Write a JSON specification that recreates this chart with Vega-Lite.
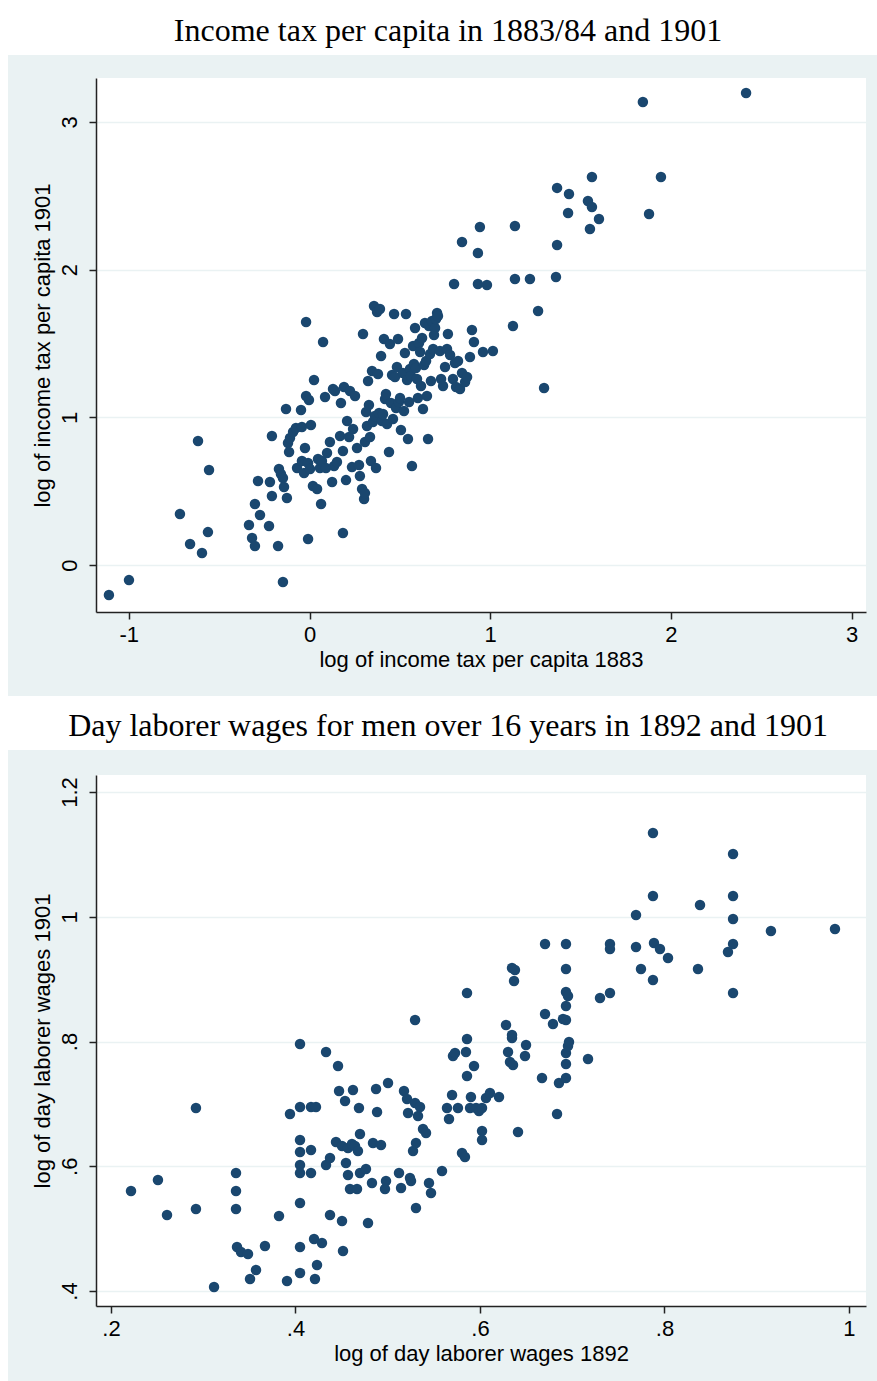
{
  "$schema": "https://vega.github.io/schema/vega-lite/v6.json",
  "background": "white",
  "padding": {"left": 8, "top": 14, "right": 0, "bottom": 0},
  "config": {
    "view": {"stroke": null},
    "concat": {"spacing": 13},
    "font": "Liberation Sans",
    "title": {"font": "Liberation Serif", "fontSize": 32, "fontWeight": "normal", "color": "#000", "anchor": "middle", "baseline": "alphabetic", "offset": 7, "dx": -33},
    "axis": {"domainColor": "#222", "domainWidth": 1.5, "tickColor": "#222", "tickWidth": 1.5, "tickSize": 7, "labelFont": "Liberation Sans", "labelFontSize": 22, "labelColor": "#000", "titleFont": "Liberation Sans", "titleFontSize": 22, "titleFontWeight": "normal", "titleColor": "#000", "labelFlush": false, "labelOverlap": false, "gridColor": "#eaf2f3", "gridWidth": 1.5, "grid": false},
    "axisX": {"labelPadding": 5, "titlePadding": 4},
    "axisY": {"labelAngle": 270, "labelAlign": "center", "labelBaseline": "alphabetic", "labelPadding": 13, "titlePadding": 4}
  },
  "datasets": {
    "tax": [
      {"x": -1.110, "y": -0.203}, {"x": -0.999, "y": -0.102}, {"x": -0.147, "y": -0.115}, {"x": -0.717, "y": 0.345}, {"x": -0.661, "y": 0.142}, {"x": -0.595, "y": 0.081}, {"x": -0.617, "y": 0.840}, {"x": -0.556, "y": 0.643}, {"x": -0.562, "y": 0.223}, {"x": -0.019, "y": 1.645}, {"x": 0.075, "y": 1.510}, {"x": -0.008, "y": 0.176}, {"x": 0.185, "y": 0.217}, {"x": 1.298, "y": 1.198}, {"x": 1.845, "y": 3.135}, {"x": 2.416, "y": 3.196}, {"x": 1.945, "y": 2.627}, {"x": 1.879, "y": 2.376}, {"x": 1.370, "y": 2.553}, {"x": 1.436, "y": 2.512}, {"x": 1.563, "y": 2.627}, {"x": 1.541, "y": 2.464}, {"x": 1.563, "y": 2.424}, {"x": 1.602, "y": 2.343}, {"x": 1.552, "y": 2.275}, {"x": 1.431, "y": 2.383}, {"x": 1.370, "y": 2.167}, {"x": 1.364, "y": 1.950}, {"x": 1.137, "y": 2.295}, {"x": 0.943, "y": 2.288}, {"x": 0.844, "y": 2.187}, {"x": 0.932, "y": 2.112}, {"x": 1.137, "y": 1.936}, {"x": 1.220, "y": 1.936}, {"x": 0.932, "y": 1.903}, {"x": 0.982, "y": 1.896}, {"x": 0.800, "y": 1.903}, {"x": 1.265, "y": 1.720}, {"x": 1.126, "y": 1.618}, {"x": 1.015, "y": 1.449}, {"x": 0.960, "y": 1.442},
      {"x": -0.335, "y": 0.271}, {"x": -0.318, "y": 0.183}, {"x": -0.302, "y": 0.129}, {"x": -0.302, "y": 0.413}, {"x": -0.285, "y": 0.569}, {"x": -0.274, "y": 0.339}, {"x": -0.224, "y": 0.264}, {"x": -0.219, "y": 0.562}, {"x": -0.208, "y": 0.467}, {"x": -0.208, "y": 0.873}, {"x": -0.174, "y": 0.129}, {"x": -0.169, "y": 0.650}, {"x": -0.158, "y": 0.616}, {"x": -0.147, "y": 0.589}, {"x": -0.141, "y": 0.528}, {"x": -0.130, "y": 1.056}, {"x": -0.125, "y": 0.454}, {"x": -0.119, "y": 0.826}, {"x": -0.113, "y": 0.765}, {"x": -0.108, "y": 0.860}, {"x": -0.091, "y": 0.900}, {"x": -0.075, "y": 0.928}, {"x": -0.069, "y": 0.657}, {"x": -0.047, "y": 1.049}, {"x": -0.042, "y": 0.934}, {"x": -0.042, "y": 0.704}, {"x": -0.030, "y": 0.623}, {"x": -0.025, "y": 0.792}, {"x": -0.019, "y": 1.144}, {"x": -0.008, "y": 0.691}, {"x": -0.003, "y": 1.117}, {"x": 0.003, "y": 0.650}, {"x": 0.008, "y": 0.948}, {"x": 0.019, "y": 0.535}, {"x": 0.025, "y": 1.253}, {"x": 0.042, "y": 0.515}, {"x": 0.047, "y": 0.718}, {"x": 0.058, "y": 0.657}, {"x": 0.064, "y": 0.413}, {"x": 0.069, "y": 0.704}, {"x": 0.086, "y": 1.137}, {"x": 0.091, "y": 0.657}, {"x": 0.097, "y": 0.758}, {"x": 0.113, "y": 0.833}, {"x": 0.125, "y": 0.562}, {"x": 0.130, "y": 1.192}, {"x": 0.136, "y": 0.670}, {"x": 0.141, "y": 1.178}, {"x": 0.152, "y": 0.697}, {"x": 0.169, "y": 0.873}, {"x": 0.174, "y": 1.097}, {"x": 0.185, "y": 0.772}, {"x": 0.191, "y": 1.205}, {"x": 0.202, "y": 0.575}, {"x": 0.208, "y": 0.975}, {"x": 0.219, "y": 0.867}, {"x": 0.224, "y": 1.178}, {"x": 0.235, "y": 0.663}, {"x": 0.241, "y": 0.921}, {"x": 0.252, "y": 1.144}, {"x": 0.263, "y": 0.792}, {"x": 0.274, "y": 0.677}, {"x": 0.279, "y": 0.603}, {"x": 0.291, "y": 0.515}, {"x": 0.296, "y": 1.564}, {"x": 0.302, "y": 0.447}, {"x": 0.307, "y": 0.487}, {"x": 0.307, "y": 0.833}, {"x": 0.313, "y": 1.036}, {"x": 0.318, "y": 0.941}, {"x": 0.324, "y": 1.246}, {"x": 0.329, "y": 1.083}, {"x": 0.335, "y": 0.867}, {"x": 0.340, "y": 0.704}, {"x": 0.346, "y": 1.313}, {"x": 0.351, "y": 0.968}, {"x": 0.357, "y": 1.754}, {"x": 0.362, "y": 1.009}, {"x": 0.368, "y": 0.657}, {"x": 0.374, "y": 1.713}, {"x": 0.379, "y": 1.293}, {"x": 0.385, "y": 1.029}, {"x": 0.390, "y": 1.733}, {"x": 0.396, "y": 1.415}, {"x": 0.401, "y": 0.975}, {"x": 0.407, "y": 1.022}, {"x": 0.412, "y": 1.530}, {"x": 0.418, "y": 1.124}, {"x": 0.423, "y": 1.158}, {"x": 0.429, "y": 0.955}, {"x": 0.440, "y": 0.765}, {"x": 0.445, "y": 1.496}, {"x": 0.451, "y": 1.097}, {"x": 0.457, "y": 1.286}, {"x": 0.462, "y": 0.988}, {"x": 0.468, "y": 1.699}, {"x": 0.473, "y": 1.273}, {"x": 0.479, "y": 1.063}, {"x": 0.484, "y": 1.341}, {"x": 0.490, "y": 1.530}, {"x": 0.495, "y": 1.104}, {"x": 0.501, "y": 1.131}, {"x": 0.506, "y": 0.914}, {"x": 0.517, "y": 1.300}, {"x": 0.523, "y": 1.043}, {"x": 0.528, "y": 1.435}, {"x": 0.534, "y": 1.699}, {"x": 0.540, "y": 1.253}, {"x": 0.545, "y": 0.853}, {"x": 0.551, "y": 1.104}, {"x": 0.556, "y": 1.327}, {"x": 0.562, "y": 1.280}, {"x": 0.567, "y": 0.670}, {"x": 0.573, "y": 1.483}, {"x": 0.578, "y": 1.361}, {"x": 0.584, "y": 1.605}, {"x": 0.589, "y": 1.334}, {"x": 0.595, "y": 1.259}, {"x": 0.600, "y": 1.131}, {"x": 0.606, "y": 1.503}, {"x": 0.612, "y": 1.442}, {"x": 0.617, "y": 1.212}, {"x": 0.623, "y": 1.537}, {"x": 0.628, "y": 1.056}, {"x": 0.634, "y": 1.354}, {"x": 0.639, "y": 1.638}, {"x": 0.645, "y": 1.381}, {"x": 0.650, "y": 1.144}, {"x": 0.656, "y": 0.853}, {"x": 0.661, "y": 1.618}, {"x": 0.667, "y": 1.429}, {"x": 0.672, "y": 1.246}, {"x": 0.678, "y": 1.652}, {"x": 0.684, "y": 1.462}, {"x": 0.689, "y": 1.557}, {"x": 0.695, "y": 1.605}, {"x": 0.700, "y": 1.666}, {"x": 0.706, "y": 1.706}, {"x": 0.711, "y": 1.686}, {"x": 0.722, "y": 1.449}, {"x": 0.728, "y": 1.259}, {"x": 0.739, "y": 1.212}, {"x": 0.750, "y": 1.341}, {"x": 0.761, "y": 1.462}, {"x": 0.766, "y": 1.564}, {"x": 0.778, "y": 1.422}, {"x": 0.794, "y": 1.259}, {"x": 0.805, "y": 1.368}, {"x": 0.811, "y": 1.205}, {"x": 0.822, "y": 1.381}, {"x": 0.833, "y": 1.192}, {"x": 0.844, "y": 1.300}, {"x": 0.861, "y": 1.239}, {"x": 0.872, "y": 1.273}, {"x": 0.888, "y": 1.408}, {"x": 0.899, "y": 1.591}, {"x": 0.910, "y": 1.510}
    ],
    "wages": [
      {"x": 0.2217, "y": 0.5603}, {"x": 0.2509, "y": 0.5780}, {"x": 0.2607, "y": 0.5218}, {"x": 0.2921, "y": 0.6934}, {"x": 0.2921, "y": 0.5315}, {"x": 0.3117, "y": 0.4064}, {"x": 0.3355, "y": 0.5892}, {"x": 0.3355, "y": 0.5603}, {"x": 0.3355, "y": 0.5315}, {"x": 0.3366, "y": 0.4705}, {"x": 0.3409, "y": 0.4625}, {"x": 0.3485, "y": 0.4593}, {"x": 0.3507, "y": 0.4192}, {"x": 0.3572, "y": 0.4337}, {"x": 0.3669, "y": 0.4721}, {"x": 0.3821, "y": 0.5202}, {"x": 0.3908, "y": 0.4160}, {"x": 0.3940, "y": 0.6838}, {"x": 0.4049, "y": 0.4289}, {"x": 0.4049, "y": 0.7960}, {"x": 0.4049, "y": 0.6421}, {"x": 0.4049, "y": 0.6228}, {"x": 0.4049, "y": 0.6020}, {"x": 0.4049, "y": 0.5892}, {"x": 0.4049, "y": 0.5411}, {"x": 0.4049, "y": 0.4705}, {"x": 0.4049, "y": 0.6950}, {"x": 0.4168, "y": 0.6950}, {"x": 0.4222, "y": 0.6950}, {"x": 0.4168, "y": 0.6261}, {"x": 0.4168, "y": 0.5892}, {"x": 0.4201, "y": 0.4834}, {"x": 0.4211, "y": 0.4192}, {"x": 0.4233, "y": 0.4417}, {"x": 0.4287, "y": 0.4770}, {"x": 0.4331, "y": 0.7832}, {"x": 0.4331, "y": 0.6020}, {"x": 0.4374, "y": 0.6132}, {"x": 0.4374, "y": 0.5218}, {"x": 0.4439, "y": 0.6389}, {"x": 0.4461, "y": 0.7607}, {"x": 0.4472, "y": 0.7206}, {"x": 0.4504, "y": 0.6325}, {"x": 0.4504, "y": 0.5122}, {"x": 0.4515, "y": 0.4641}, {"x": 0.4537, "y": 0.7046}, {"x": 0.4547, "y": 0.6052}, {"x": 0.4569, "y": 0.5860}, {"x": 0.4569, "y": 0.6293}, {"x": 0.4591, "y": 0.5635}, {"x": 0.4612, "y": 0.6357}, {"x": 0.4623, "y": 0.7222}, {"x": 0.4645, "y": 0.6325}, {"x": 0.4667, "y": 0.5635}, {"x": 0.4677, "y": 0.6245}, {"x": 0.4688, "y": 0.6934}, {"x": 0.4699, "y": 0.5892}, {"x": 0.4699, "y": 0.6517}, {"x": 0.4764, "y": 0.5956}, {"x": 0.4786, "y": 0.5090}, {"x": 0.4829, "y": 0.5731}, {"x": 0.4840, "y": 0.6373}, {"x": 0.4873, "y": 0.7238}, {"x": 0.4884, "y": 0.6870}, {"x": 0.4927, "y": 0.6341}, {"x": 0.4981, "y": 0.5764}, {"x": 0.5003, "y": 0.7335}, {"x": 0.4970, "y": 0.5635}, {"x": 0.5122, "y": 0.5892}, {"x": 0.5144, "y": 0.5651}, {"x": 0.5176, "y": 0.7206}, {"x": 0.5209, "y": 0.7078}, {"x": 0.5220, "y": 0.6854}, {"x": 0.5241, "y": 0.5812}, {"x": 0.5252, "y": 0.5764}, {"x": 0.5274, "y": 0.6245}, {"x": 0.5296, "y": 0.8345}, {"x": 0.5296, "y": 0.7014}, {"x": 0.5306, "y": 0.5331}, {"x": 0.5306, "y": 0.6373}, {"x": 0.5328, "y": 0.6806}, {"x": 0.5350, "y": 0.6950}, {"x": 0.5382, "y": 0.6597}, {"x": 0.5415, "y": 0.6533}, {"x": 0.5447, "y": 0.5731}, {"x": 0.5469, "y": 0.5571}, {"x": 0.5588, "y": 0.5924}, {"x": 0.5642, "y": 0.6934}, {"x": 0.5664, "y": 0.6758}, {"x": 0.5697, "y": 0.7142}, {"x": 0.5707, "y": 0.7768}, {"x": 0.5729, "y": 0.7816}, {"x": 0.5761, "y": 0.6934}, {"x": 0.5805, "y": 0.6212}, {"x": 0.5837, "y": 0.6148}, {"x": 0.5848, "y": 0.7832}, {"x": 0.5859, "y": 0.8778}, {"x": 0.5859, "y": 0.8040}, {"x": 0.5859, "y": 0.7447}, {"x": 0.5892, "y": 0.6934}, {"x": 0.5902, "y": 0.7110}, {"x": 0.5935, "y": 0.7607}, {"x": 0.5957, "y": 0.6934}, {"x": 0.5989, "y": 0.6886}, {"x": 0.6022, "y": 0.6934}, {"x": 0.6022, "y": 0.6565}, {"x": 0.6022, "y": 0.6421}, {"x": 0.6065, "y": 0.7094}, {"x": 0.6108, "y": 0.7174}, {"x": 0.6206, "y": 0.7110}, {"x": 0.6282, "y": 0.8265}, {"x": 0.6304, "y": 0.7832}, {"x": 0.6325, "y": 0.7671}, {"x": 0.6347, "y": 0.8056}, {"x": 0.6347, "y": 0.9178}, {"x": 0.6369, "y": 0.8970}, {"x": 0.6379, "y": 0.9146}, {"x": 0.6347, "y": 0.8104}, {"x": 0.6358, "y": 0.7623}, {"x": 0.6412, "y": 0.6549}, {"x": 0.6488, "y": 0.7768}, {"x": 0.6499, "y": 0.7944}, {"x": 0.6672, "y": 0.7415}, {"x": 0.6705, "y": 0.9563}, {"x": 0.6705, "y": 0.8441}, {"x": 0.6791, "y": 0.8281}, {"x": 0.6835, "y": 0.6838}, {"x": 0.6856, "y": 0.7335}, {"x": 0.6900, "y": 0.8361}, {"x": 0.6932, "y": 0.9563}, {"x": 0.6932, "y": 0.9162}, {"x": 0.6932, "y": 0.8794}, {"x": 0.6932, "y": 0.8569}, {"x": 0.6932, "y": 0.8345}, {"x": 0.6932, "y": 0.7816}, {"x": 0.6932, "y": 0.7639}, {"x": 0.6932, "y": 0.7415}, {"x": 0.6954, "y": 0.8730}, {"x": 0.6954, "y": 0.7928}, {"x": 0.6965, "y": 0.7992}, {"x": 0.7171, "y": 0.7719}, {"x": 0.7301, "y": 0.8697}, {"x": 0.7409, "y": 0.9563}, {"x": 0.7409, "y": 0.9483}, {"x": 0.7409, "y": 0.8778}, {"x": 0.7691, "y": 1.0028}, {"x": 0.7691, "y": 0.9515}, {"x": 0.7745, "y": 0.9162}, {"x": 0.7875, "y": 0.8986}, {"x": 0.7875, "y": 1.1343}, {"x": 0.7875, "y": 1.0333}, {"x": 0.7886, "y": 0.9579}, {"x": 0.7951, "y": 0.9483}, {"x": 0.8038, "y": 0.9339}, {"x": 0.8363, "y": 0.9162}, {"x": 0.8385, "y": 1.0189}, {"x": 0.8688, "y": 0.9435}, {"x": 0.8743, "y": 0.9563}, {"x": 0.8743, "y": 0.8778}, {"x": 0.8743, "y": 1.1006}, {"x": 0.8743, "y": 1.0333}, {"x": 0.8743, "y": 0.9964}, {"x": 0.9154, "y": 0.9772}, {"x": 0.9848, "y": 0.9804}
    ]
  },
  "vconcat": [
    {
      "title": {"text": "Income tax per capita in 1883/84 and 1901"},
      "width": 770,
      "height": 534,
      "resolve": {"axis": {"y": "independent"}},
      "layer": [
        {"data": {"values": [{}]}, "mark": {"type": "rect", "color": "#eaf2f3"},
         "encoding": {"x": {"datum": -1.6685, "type": "quantitative", "scale": {"domain": [-1.18152, 3.07969], "nice": false, "zero": false}}, "x2": {"datum": 3.1405},
                      "y": {"datum": 3.453, "type": "quantitative", "scale": {"domain": [-0.318, 3.297], "nice": false, "zero": false},
                            "axis": {"orient": "right", "grid": true, "zindex": 0, "labels": false, "ticks": false, "domain": false, "title": null, "values": [0, 1, 2, 3]}}, "y2": {"datum": 3.297}}},
        {"data": {"values": [{}]}, "mark": {"type": "rect", "color": "#eaf2f3"},
         "encoding": {"x": {"datum": -1.6685, "type": "quantitative", "scale": {"domain": [-1.18152, 3.07969], "nice": false, "zero": false}}, "x2": {"datum": 3.1405},
                      "y": {"datum": -0.318, "type": "quantitative", "axis": null, "scale": {"domain": [-0.318, 3.297], "nice": false, "zero": false}}, "y2": {"datum": -0.887}}},
        {"data": {"values": [{}]}, "mark": {"type": "rect", "color": "#eaf2f3"},
         "encoding": {"x": {"datum": -1.6685, "type": "quantitative", "scale": {"domain": [-1.18152, 3.07969], "nice": false, "zero": false}}, "x2": {"datum": -1.18152},
                      "y": {"datum": 3.453, "type": "quantitative", "axis": null, "scale": {"domain": [-0.318, 3.297], "nice": false, "zero": false}}, "y2": {"datum": -0.887}}},
        {"data": {"values": [{}]}, "mark": {"type": "rect", "color": "#eaf2f3"},
         "encoding": {"x": {"datum": 3.07969, "type": "quantitative", "scale": {"domain": [-1.18152, 3.07969], "nice": false, "zero": false}}, "x2": {"datum": 3.1405},
                      "y": {"datum": 3.453, "type": "quantitative", "axis": null, "scale": {"domain": [-0.318, 3.297], "nice": false, "zero": false}}, "y2": {"datum": -0.887}}},
        {"data": {"name": "tax"},
         "mark": {"type": "point", "filled": true, "shape": "circle", "size": 110, "color": "#1a476f", "opacity": 1},
         "encoding": {
           "x": {"field": "x", "type": "quantitative", "scale": {"domain": [-1.18152, 3.07969], "nice": false, "zero": false},
                 "axis": {"zindex": 1, "title": "log of income tax per capita 1883", "values": [-1, 0, 1, 2, 3], "labelExpr": "datum.value < 0 ? '-' + format(-datum.value, 'd') : format(datum.value, 'd')"}},
           "y": {"field": "y", "type": "quantitative", "scale": {"domain": [-0.318, 3.297], "nice": false, "zero": false},
                 "axis": {"zindex": 1, "orient": "left", "title": "log of income tax per capita 1901", "values": [0, 1, 2, 3], "labelExpr": "format(datum.value, 'd')"}}
         }}
      ]
    },
    {
      "title": {"text": "Day laborer wages for men over 16 years in 1892 and 1901"},
      "width": 770,
      "height": 531,
      "resolve": {"axis": {"y": "independent"}},
      "layer": [
        {"data": {"values": [{}]}, "mark": {"type": "rect", "color": "#eaf2f3"},
         "encoding": {"x": {"datum": 0.08835, "type": "quantitative", "scale": {"domain": [0.18374, 1.01843], "nice": false, "zero": false}}, "x2": {"datum": 1.03035},
                      "y": {"datum": 1.2673, "type": "quantitative", "scale": {"domain": [0.37595, 1.2273], "nice": false, "zero": false},
                            "axis": {"orient": "right", "grid": true, "zindex": 0, "labels": false, "ticks": false, "domain": false, "title": null, "values": [0.4, 0.6, 0.8, 1, 1.2]}}, "y2": {"datum": 1.2273}}},
        {"data": {"values": [{}]}, "mark": {"type": "rect", "color": "#eaf2f3"},
         "encoding": {"x": {"datum": 0.08835, "type": "quantitative", "scale": {"domain": [0.18374, 1.01843], "nice": false, "zero": false}}, "x2": {"datum": 1.03035},
                      "y": {"datum": 0.37595, "type": "quantitative", "axis": null, "scale": {"domain": [0.37595, 1.2273], "nice": false, "zero": false}}, "y2": {"datum": 0.2509}}},
        {"data": {"values": [{}]}, "mark": {"type": "rect", "color": "#eaf2f3"},
         "encoding": {"x": {"datum": 0.08835, "type": "quantitative", "scale": {"domain": [0.18374, 1.01843], "nice": false, "zero": false}}, "x2": {"datum": 0.18374},
                      "y": {"datum": 1.2673, "type": "quantitative", "axis": null, "scale": {"domain": [0.37595, 1.2273], "nice": false, "zero": false}}, "y2": {"datum": 0.2509}}},
        {"data": {"values": [{}]}, "mark": {"type": "rect", "color": "#eaf2f3"},
         "encoding": {"x": {"datum": 1.01843, "type": "quantitative", "scale": {"domain": [0.18374, 1.01843], "nice": false, "zero": false}}, "x2": {"datum": 1.03035},
                      "y": {"datum": 1.2673, "type": "quantitative", "axis": null, "scale": {"domain": [0.37595, 1.2273], "nice": false, "zero": false}}, "y2": {"datum": 0.2509}}},
        {"data": {"name": "wages"},
         "mark": {"type": "point", "filled": true, "shape": "circle", "size": 110, "color": "#1a476f", "opacity": 1},
         "encoding": {
           "x": {"field": "x", "type": "quantitative", "scale": {"domain": [0.18374, 1.01843], "nice": false, "zero": false},
                 "axis": {"zindex": 1, "title": "log of day laborer wages 1892", "values": [0.2, 0.4, 0.6, 0.8, 1], "labelExpr": "replace(format(datum.value, '~g'), '0.', '.')"}},
           "y": {"field": "y", "type": "quantitative", "scale": {"domain": [0.37595, 1.2273], "nice": false, "zero": false},
                 "axis": {"zindex": 1, "orient": "left", "title": "log of day laborer wages 1901", "values": [0.4, 0.6, 0.8, 1, 1.2], "labelExpr": "replace(format(datum.value, '~g'), '0.', '.')"}}
         }}
      ]
    }
  ]
}
